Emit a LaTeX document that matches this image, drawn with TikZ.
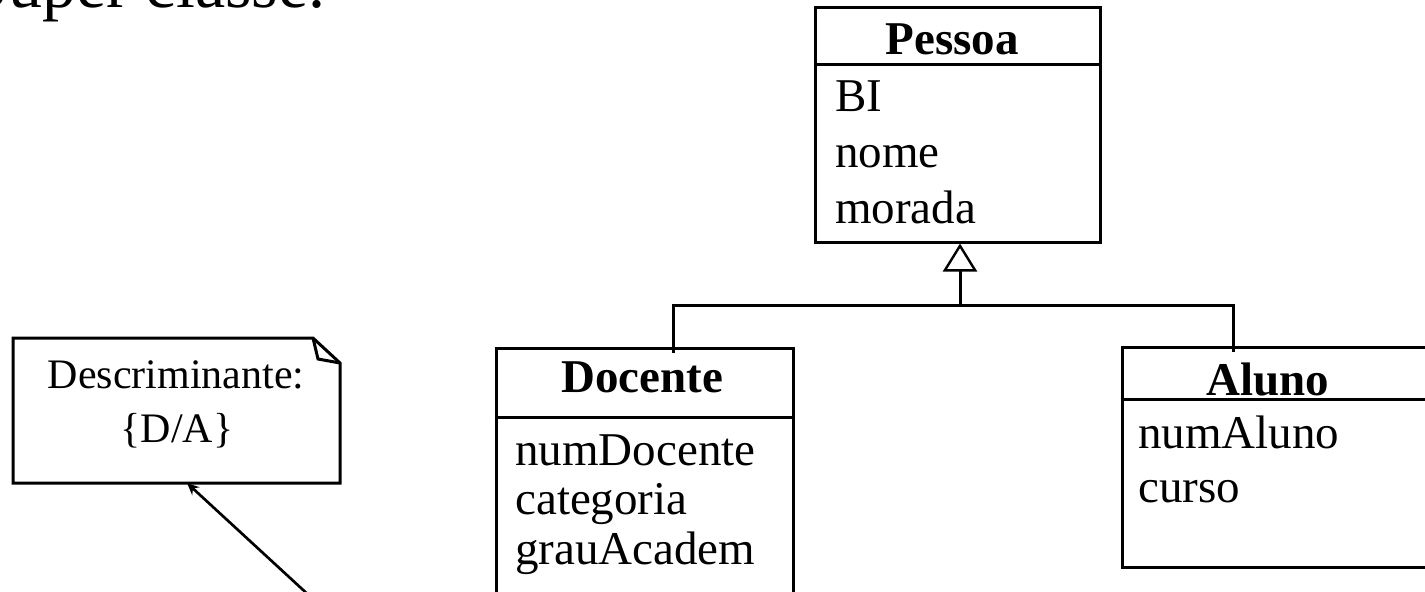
\documentclass[tikz,border=0pt]{standalone}
\usepackage{fontspec}
\setmainfont{Liberation Serif}
\usetikzlibrary{arrows.meta,fit}
\tikzset{
  umlbox/.style={draw, line width=2.25pt, inner sep=0pt},
  cname/.style={font=\fontsize{35.25}{40}\selectfont\bfseries, anchor=base, inner sep=0pt},
  attr/.style={font=\fontsize{35.25}{40}\selectfont, anchor=base west, inner sep=0pt},
  notetext/.style={font=\fontsize{31.5}{36}\selectfont, anchor=base, inner sep=0pt},
  conn/.style={line width=2.25pt},
  gen/.style={line width=2.25pt, -{Triangle[open, length=21pt, width=25.5pt, line width=1.8pt]}},
  assoc/.style={line width=2pt, -{Stealth[length=9pt, width=8pt]}},
}
\begin{document}
\begin{tikzpicture}[x=0.75pt, y=-0.75pt]
\useasboundingbox (0,0) rectangle (1425,592);
\clip (0,0) rectangle (1425,592);

% title (clipped at top)
\node[font=\fontsize{51}{56}\selectfont, anchor=base west, inner sep=0pt] (title) at (-30,8) {Super classe.};

% Pessoa
\node[umlbox, fit={(815,8) (1100,242)}] (pessoa) {};
\draw[conn] (pessoa.west |- 0,65) -- (pessoa.east |- 0,65);
\node[cname] (pn) at (952,55) {Pessoa};
\node[attr] (p1) at (835,112) {BI};
\node[attr] (p2) at (835,167) {nome};
\node[attr] (p3) at (835,223) {morada};

% Docente
\node[umlbox, fit={(496,348) (793,610)}] (docente) {};
\draw[conn] (docente.west |- 0,417) -- (docente.east |- 0,417);
\node[cname] (dn) at (642,392) {Docente};
\node[attr] (d1) at (515,465) {numDocente};
\node[attr] (d2) at (515,514) {categoria};
\node[attr] (d3) at (515,564) {grauAcadem};

% Aluno
\node[umlbox, fit={(1122,347) (1445,567)}] (aluno) {};
\draw[conn] (aluno.west |- 0,399) -- (aluno.east |- 0,399);
\node[cname] (an) at (1268,395) {Aluno};
\node[attr] (a1) at (1138,448) {numAluno};
\node[attr] (a2) at (1138,502) {curso};

% generalization
\coordinate (hl) at (673,305);
\coordinate (hj) at (960,305);
\coordinate (hr) at (1233,305);
\draw[conn] ([yshift=-5pt]docente.north -| hl) -- (hl) -- (hr) -- ([yshift=-5pt]aluno.north -| hr);
\draw[gen] (hj) -- (pessoa.south -| hj);

% note
\node[fit={(13,338) (340,483)}, inner sep=0pt] (note) {};
\draw[conn, line join=miter] (13,338) -- (313,338) -- (340,363) -- (340,483) -- (13,483) -- cycle;
\draw[conn, line join=miter] (313,338) -- (318,359) -- (340,363);
\node[notetext] (nt1) at (176,388) {Descriminante:};
\node[notetext] (nt2) at (177,442) {\{D/A\}};

% arrow to note
\coordinate (src) at (314,600);
\coordinate (na) at (187,483);
\draw[assoc] (src) -- (na);
\end{tikzpicture}
\end{document}
